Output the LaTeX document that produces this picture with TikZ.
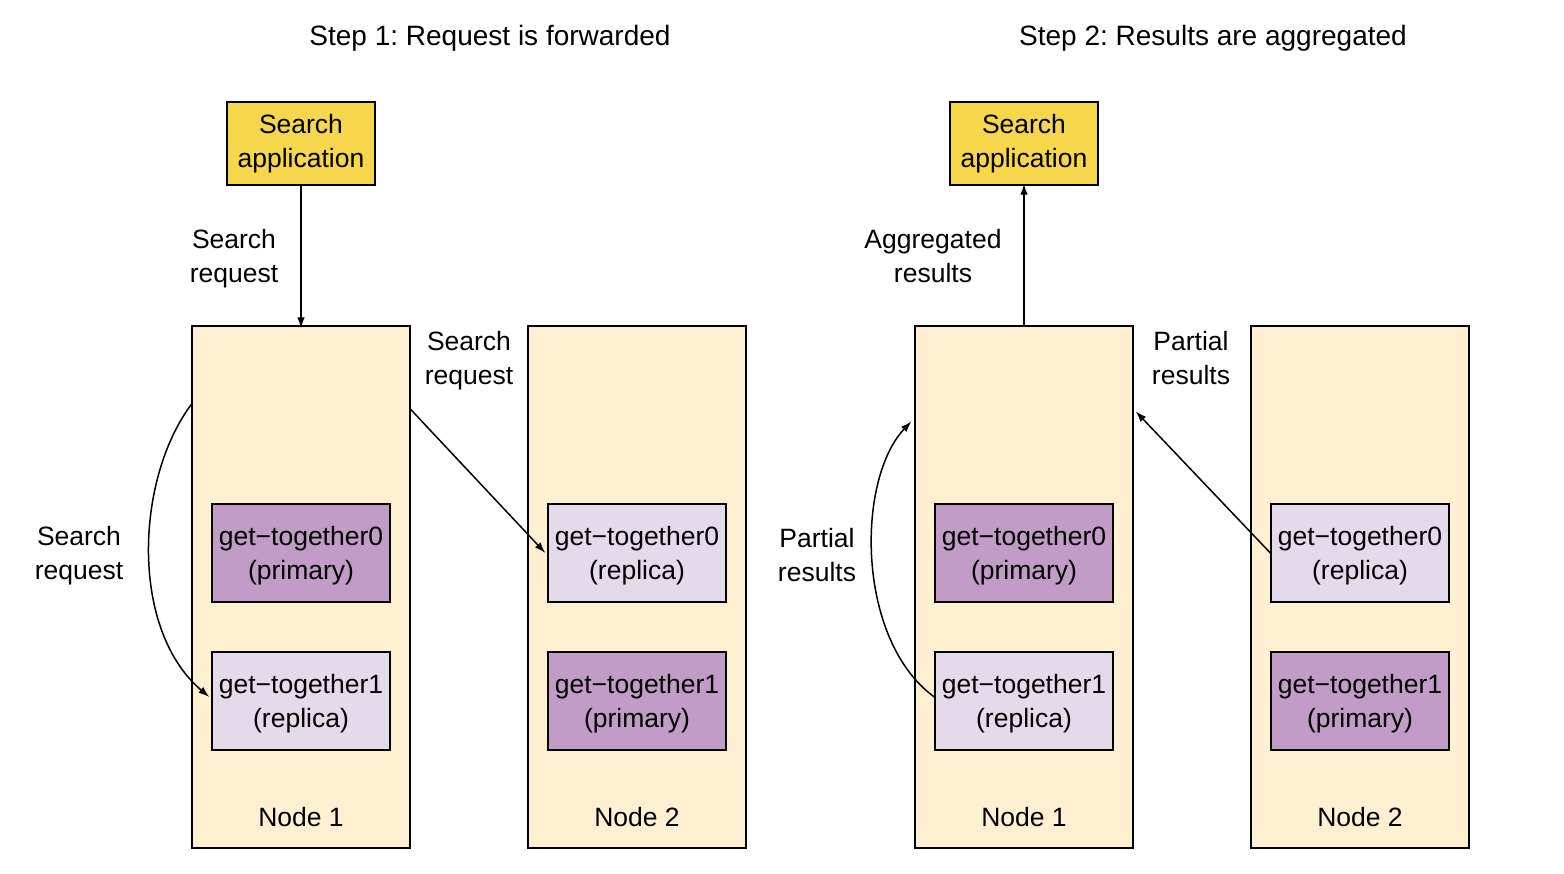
\documentclass[tikz,border=0pt]{standalone}
\usepackage{fontspec}
\setmainfont{Liberation Sans}
\usetikzlibrary{arrows.meta,calc}
\definecolor{appyellow}{HTML}{F6D74B}
\definecolor{nodefill}{HTML}{FEF0D1}
\definecolor{primaryfill}{HTML}{C09CC6}
\definecolor{replicafill}{HTML}{E5DAEA}
\frenchspacing
\begin{document}
\begin{tikzpicture}[x=1pt,y=-1pt,
  every node/.style={font=\fontsize{26.5}{34}\selectfont, align=center, inner sep=0pt},
  title/.style={font=\fontsize{28}{34}\selectfont},
  txt/.style={label={[yshift=-3]center:#1}},
  app/.style={draw, line width=1.3pt, fill=appyellow, minimum width=148, minimum height=83},
  esnode/.style={draw, line width=1.3pt, fill=nodefill, minimum width=218, minimum height=522},
  primary/.style={draw, line width=1.3pt, fill=primaryfill, minimum width=178, minimum height=98},
  replica/.style={draw, line width=1.3pt, fill=replicafill, minimum width=178, minimum height=98},
  link/.style={line width=1.5pt, -{Latex[length=11,width=7.5]}}]
\useasboundingbox (0,0) rectangle (1564,874);

% ---------- Step 1 ----------
\node[title] (t1) at (490,38.5) {Step 1: Request is forwarded};
\node[app] (a1) at (301,143.5) {Search\\application};
\node[esnode] (n1) at (301,587) {};
\node[esnode] (n2) at (637,587) {};
\node[primary, txt={get−together0\\(primary)}] (s0a) at (301,553) {};
\node[replica, txt={get−together1\\(replica)}] (s1a) at (301,701) {};
\node[replica, txt={get−together0\\(replica)}] (s0b) at (637,553) {};
\node[primary, txt={get−together1\\(primary)}] (s1b) at (637,701) {};
\node (l1) at (301,817) {Node 1};
\node (l2) at (637,817) {Node 2};
\node (r1) at (234,258.5) {Search\\request};
\node (r2) at (469,360.5) {Search\\request};
\node (r3) at (79,555.5) {Search\\request};

\draw[link] (a1.south) -- ([yshift=-3]n1.north);
\coordinate (c1) at ([yshift=-79]n1.north west);
\draw[link] (c1) .. controls (135,480) and (130,630) .. ([xshift=-2,yshift=4]s1a.west);
\coordinate (c2) at ([yshift=-84]n1.north east);
\draw[link] (c2) -- ([xshift=-2]s0b.west);

% ---------- Step 2 ----------
\node[title] (t2) at (1213,38.5) {Step 2: Results are aggregated};
\node[app] (a2) at (1024,143.5) {Search\\application};
\node[esnode] (m1) at (1024,587) {};
\node[esnode] (m2) at (1360,587) {};
\node[primary, txt={get−together0\\(primary)}] (s0c) at (1024,553) {};
\node[replica, txt={get−together1\\(replica)}] (s1c) at (1024,701) {};
\node[replica, txt={get−together0\\(replica)}] (s0d) at (1360,553) {};
\node[primary, txt={get−together1\\(primary)}] (s1d) at (1360,701) {};
\node (l3) at (1024,817) {Node 1};
\node (l4) at (1360,817) {Node 2};
\node (r4) at (933,256) {Aggregated\\results};
\node (r5) at (1191,358.5) {Partial\\results};
\node (r6) at (817,555.5) {Partial\\results};

\draw[link] (m1.north) -- ([yshift=2]a2.south);
\coordinate (c3) at ([xshift=-3,yshift=-96]m1.north west);
\draw[link] ([yshift=4]s1c.west) .. controls (856,640) and (856,480) .. (c3);
\coordinate (c4) at ([xshift=2,yshift=-86]m1.north east);
\draw[link] (s0d.west) -- (c4);
\end{tikzpicture}
\end{document}
